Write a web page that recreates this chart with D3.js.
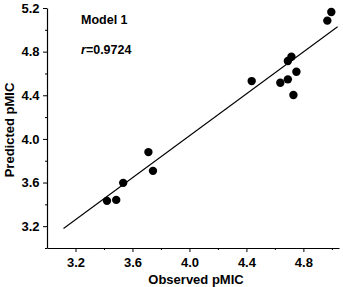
<!DOCTYPE html>
<html>
<head>
<meta charset="utf-8">
<script src="https://cdn.jsdelivr.net/npm/d3@7"></script>
<style>
  body { margin: 0; background: #fff; }
  svg text { font-family: "Liberation Sans", Arial, sans-serif; font-weight: bold; fill: #000; }
</style>
</head>
<body>
<div id="chart"></div>
<script>
// observed vs predicted values
var observed  = [4.996, 4.968, 4.716, 4.691, 4.751, 4.437, 4.638, 4.691, 4.730, 3.712, 3.744, 3.535, 3.421, 3.486];
var predicted = [5.163, 5.084, 4.753, 4.714, 4.616, 4.530, 4.515, 4.546, 4.402, 3.879, 3.707, 3.597, 3.432, 3.441];
var fitX = [3.116, 5.040];
var fitY = [3.179, 5.028];
var xTicks = [3.2, 3.6, 4.0, 4.4, 4.8];
var yTicks = [3.2, 3.6, 4.0, 4.4, 4.8, 5.2];
var xMinor = [3.4, 3.8, 4.2, 4.6, 5.0];
var yMinor = [3.0, 3.4, 3.8, 4.2, 4.6, 5.0];

var width = 343, height = 287;
var margin = {top: 8, right: 4, bottom: 39, left: 47};

var svg = d3.select("#chart").append("svg")
  .attr("width", width)
  .attr("height", height);

var x = d3.scaleLinear().domain([3.0, 5.05]).range([margin.left, width - margin.right]);
var y = d3.scaleLinear().domain([3.0, 5.2]).range([height - margin.bottom, margin.top]);

// x axis
var gx = svg.append("g").attr("transform", "translate(0," + (height - margin.bottom) + ")");
gx.call(d3.axisBottom(x).tickValues(xTicks).tickSize(4).tickSizeOuter(0).tickFormat(d3.format(".1f")));
gx.append("g").call(d3.axisBottom(x).tickValues(xMinor).tickSize(2).tickSizeOuter(0).tickFormat(""))
  .select(".domain").remove();

// y axis
var gy = svg.append("g").attr("transform", "translate(" + margin.left + ",0)");
gy.call(d3.axisLeft(y).tickValues(yTicks).tickSize(4).tickSizeOuter(0).tickFormat(d3.format(".1f")));
gy.append("g").call(d3.axisLeft(y).tickValues(yMinor).tickSize(2).tickSizeOuter(0).tickFormat(""))
  .select(".domain").remove();

svg.selectAll(".domain").attr("stroke", "#000").attr("stroke-width", 1.2);
svg.selectAll(".tick line").attr("stroke", "#000").attr("stroke-width", 1);
svg.selectAll(".tick text").style("font-size", "13px").style("font-weight", "bold")
  .style("font-family", "'Liberation Sans', Arial, sans-serif");
gx.selectAll(".tick text").attr("dy", "0").attr("y", 18.5);
gy.selectAll(".tick text").attr("x", -7.5);

// regression line
svg.append("line")
  .attr("x1", x(fitX[0])).attr("y1", y(fitY[0]))
  .attr("x2", x(fitX[1])).attr("y2", y(fitY[1]))
  .attr("stroke", "#000").attr("stroke-width", 1.1);

// points
svg.append("g").selectAll("circle")
  .data(observed)
  .enter().append("circle")
  .attr("cx", function(d){ return x(d); })
  .attr("cy", function(d, i){ return y(predicted[i]); })
  .attr("r", 4.2)
  .attr("fill", "#000");

// labels
svg.append("text").attr("x", 81).attr("y", 24).style("font-size", "12.5px").text("Model 1");
var rt = svg.append("text").attr("x", 81).attr("y", 54).style("font-size", "12.5px");
rt.append("tspan").style("font-style", "italic").text("r");
rt.append("tspan").text("=0.9724");

svg.append("text")
  .attr("x", 196).attr("y", 284)
  .attr("text-anchor", "middle")
  .style("font-size", "13px")
  .text("Observed pMIC");

svg.append("text")
  .attr("transform", "translate(14,130) rotate(-90)")
  .attr("text-anchor", "middle")
  .style("font-size", "13px")
  .text("Predicted pMIC");
</script>
</body>
</html>
